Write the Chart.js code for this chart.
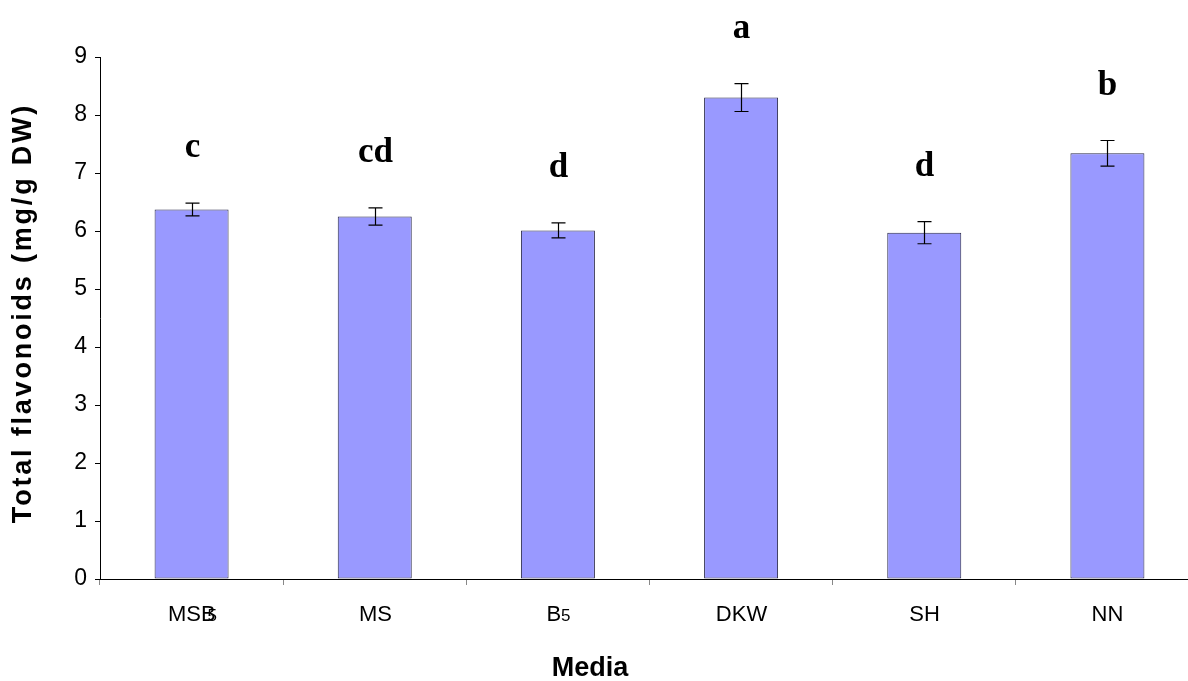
<!DOCTYPE html>
<html lang="en">
<head>
    <meta charset="UTF-8">
    <title>Total flavonoids by medium</title>
    <style>
        body {
            margin: 0;
            overflow: hidden;
            background-color: #fff;
        }
        canvas {
            display: block;
        }
    </style>
    <script src="https://cdn.jsdelivr.net/npm/chart.js"></script>
</head>
<body>
<canvas id="flavChart" width="1210" height="681"></canvas>

<script>
    // Data
    const media = ['MSB5', 'MS', 'B5', 'DKW', 'SH', 'NN'];
    const flavonoids = [6.37, 6.25, 6.01, 8.30, 5.97, 7.34];
    const stdErr = [0.11, 0.15, 0.13, 0.24, 0.19, 0.22];
    const letters = ['c', 'cd', 'd', 'a', 'd', 'b'];
    const yTicks = [0, 1, 2, 3, 4, 5, 6, 7, 8, 9];

    // Error bars, significance letters, x labels with small "5", axis titles
    const extrasPlugin = {
        id: 'extras',
        afterDatasetsDraw(chart) {
            const ctx = chart.ctx;
            const x = chart.scales.x;
            const y = chart.scales.y;
            const area = chart.chartArea;

            ctx.save();
            ctx.strokeStyle = '#000';
            ctx.lineWidth = 1.2;
            ctx.fillStyle = '#000';

            media.forEach((name, i) => {
                const cx = Math.round(x.getPixelForValue(i)) + 0.5;
                const top = y.getPixelForValue(flavonoids[i] + stdErr[i]);
                const bot = y.getPixelForValue(flavonoids[i] - stdErr[i]);

                // error bar
                ctx.beginPath();
                ctx.moveTo(cx, top);
                ctx.lineTo(cx, bot);
                ctx.moveTo(cx - 7, top);
                ctx.lineTo(cx + 7, top);
                ctx.moveTo(cx - 7, bot);
                ctx.lineTo(cx + 7, bot);
                ctx.stroke();

                // letter above
                ctx.font = 'bold 35px "Liberation Serif", "Times New Roman", serif';
                ctx.textAlign = 'center';
                ctx.textBaseline = 'alphabetic';
                ctx.fillText(letters[i], cx, top - 46);

                // category label, trailing digit drawn smaller
                const m = name.match(/^(.*?)(\d*)$/);
                const main = m[1];
                const sub = m[2];
                const labY = area.bottom + 42;
                ctx.textAlign = 'left';
                ctx.font = '22px "Liberation Sans", Arial, sans-serif';
                const wMain = ctx.measureText(main).width;
                ctx.font = '17px "Liberation Sans", Arial, sans-serif';
                const wSub = sub ? ctx.measureText(sub).width : 0;
                // the original overlaps the "5" onto "MSB"
                const overlap = (sub && main.length > 1) ? 8 : 0;
                const total = wMain + wSub - overlap;
                const startX = cx - total / 2;
                ctx.font = '22px "Liberation Sans", Arial, sans-serif';
                ctx.fillText(main, startX, labY);
                if (sub) {
                    ctx.font = '17px "Liberation Sans", Arial, sans-serif';
                    ctx.fillText(sub, startX + wMain - overlap, labY);
                }
            });

            // x title
            ctx.font = 'bold 27px "Liberation Sans", Arial, sans-serif';
            ctx.textAlign = 'center';
            ctx.textBaseline = 'alphabetic';
            ctx.fillText('Media', area.left + 490, 676);

            // y title
            ctx.translate(24, (area.top + area.bottom) / 2 - 5);
            ctx.rotate(-Math.PI / 2);
            ctx.textBaseline = 'middle';
            ctx.letterSpacing = '2.8px';
            ctx.fillText('Total flavonoids (mg/g DW)', 0, 0);
            ctx.restore();
        }
    };

    const ctx = document.getElementById('flavChart').getContext('2d');
    new Chart(ctx, {
        type: 'bar',
        data: {
            labels: media,
            datasets: [{
                data: flavonoids,
                backgroundColor: '#9999FF',
                borderColor: '#2a2a4a',
                borderWidth: 1,
                borderSkipped: false,
                barPercentage: 0.404,
                categoryPercentage: 1.0
            }]
        },
        options: {
            responsive: false,
            animation: false,
            devicePixelRatio: 1,
            layout: {
                padding: { top: 57, right: 11, left: 0, bottom: 0 }
            },
            plugins: {
                legend: { display: false },
                tooltip: { enabled: false }
            },
            scales: {
                x: {
                    afterFit(scale) { scale.height = 102; },
                    grid: {
                        offset: true,
                        drawOnChartArea: false,
                        tickLength: 6,
                        color: '#888'
                    },
                    border: { color: '#000', width: 1 },
                    ticks: { display: false }
                },
                y: {
                    min: 0,
                    max: 9,
                    afterFit(scale) { scale.width = 100; },
                    afterBuildTicks(scale) {
                        scale.ticks = yTicks.map(v => ({ value: v }));
                    },
                    grid: {
                        drawOnChartArea: false,
                        tickLength: 5,
                        color: '#000'
                    },
                    border: { color: '#000', width: 1 },
                    ticks: {
                        padding: 8,
                        color: '#000',
                        font: { family: '"Liberation Sans", Arial, sans-serif', size: 23 }
                    }
                }
            }
        },
        plugins: [extrasPlugin]
    });
</script>
</body>
</html>
